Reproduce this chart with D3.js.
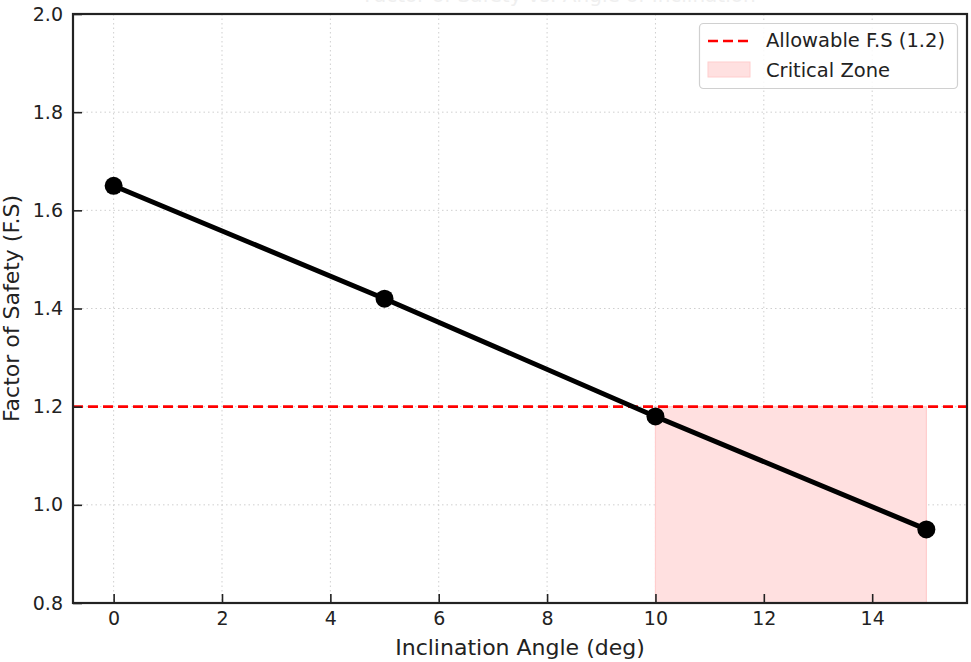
<!DOCTYPE html>
<html><head><meta charset="utf-8">
<script src="https://cdn.jsdelivr.net/npm/d3@7"></script>
<style>body{margin:0;background:#fff}svg{display:block}text{font-family:"DejaVu Sans",sans-serif}</style>
</head><body>
<svg id="c" width="971" height="662"></svg>
<script>
const angles = [0, 5, 10, 15];
const fsValues = [1.65, 1.42, 1.18, 0.95];
const allowableFS = 1.2;
const criticalZone = [10, 15];
const xTicks = [0, 2, 4, 6, 8, 10, 12, 14];
const yTicks = [0.8, 1.0, 1.2, 1.4, 1.6, 1.8, 2.0];
const titleText = "Factor of Safety vs. Angle of Inclination";
const xLabel = "Inclination Angle (deg)";
const yLabel = "Factor of Safety (F.S)";
const legendLabels = ["Allowable F.S (1.2)", "Critical Zone"];

const svg = d3.select("#c");
const L = 73, R = 967, T = 14, B = 603;
const x = d3.scaleLinear().domain([-0.75, 15.75]).range([L, R]);
const y = d3.scaleLinear().domain([0.8, 2.0]).range([B, T]);

// title (mostly clipped at top, as in the reference)
svg.append("text").attr("x", (L + R) / 2 + 40).attr("y", 2).attr("text-anchor", "middle")
  .attr("font-size", 20).attr("fill", "#efefef").text(titleText);

// grid
const g = svg.append("g");
g.selectAll(".gx").data(xTicks).join("line")
  .attr("x1", d => x(d)).attr("x2", d => x(d)).attr("y1", T).attr("y2", B)
  .attr("stroke", "#cfcfcf").attr("stroke-width", 1).attr("stroke-dasharray", "1.5,3");
g.selectAll(".gy").data(yTicks).join("line")
  .attr("y1", d => y(d)).attr("y2", d => y(d)).attr("x1", L).attr("x2", R)
  .attr("stroke", "#cfcfcf").attr("stroke-width", 1).attr("stroke-dasharray", "1.5,3");

// critical zone
svg.append("rect").attr("x", x(criticalZone[0])).attr("y", y(allowableFS))
  .attr("width", x(criticalZone[1]) - x(criticalZone[0])).attr("height", y(0.8) - y(allowableFS))
  .attr("fill", "rgb(255,224,224)").attr("stroke", "rgb(255,205,205)").attr("stroke-width", 1.2);

// allowable line
svg.append("line").attr("x1", L).attr("x2", R).attr("y1", y(allowableFS)).attr("y2", y(allowableFS))
  .attr("stroke", "#ff0000").attr("stroke-width", 2.6).attr("stroke-dasharray", "10,5");

// data line
const pts = angles.map((a, i) => [a, fsValues[i]]);
svg.append("path").datum(pts)
  .attr("d", d3.line().x(d => x(d[0])).y(d => y(d[1])))
  .attr("fill", "none").attr("stroke", "#000").attr("stroke-width", 5);
svg.selectAll(".pt").data(pts).join("circle")
  .attr("cx", d => x(d[0])).attr("cy", d => y(d[1])).attr("r", 9).attr("fill", "#000");

// axes (ticks inward)
const xa = svg.append("g").attr("transform", `translate(0,${B})`)
  .call(d3.axisBottom(x).tickValues(xTicks).tickSizeInner(-9).tickSizeOuter(0).tickPadding(9).tickFormat(d3.format("d")));
const ya = svg.append("g").attr("transform", `translate(${L},0)`)
  .call(d3.axisLeft(y).tickValues(yTicks).tickSizeInner(-9).tickSizeOuter(0).tickPadding(10).tickFormat(d3.format(".1f")));
[xa, ya].forEach(a => {
  a.select(".domain").remove();
  a.selectAll("line").attr("stroke", "#222").attr("stroke-width", 1.6);
  a.selectAll("text").attr("font-size", 19).attr("fill", "#222").style("font-family", "DejaVu Sans");
});

// frame
svg.append("rect").attr("x", L).attr("y", T).attr("width", R - L).attr("height", B - T)
  .attr("fill", "none").attr("stroke", "#222").attr("stroke-width", 2.2);

// axis labels
svg.append("text").attr("x", (L + R) / 2).attr("y", 655).attr("text-anchor", "middle")
  .attr("font-size", 22).attr("fill", "#222").text(xLabel);
svg.append("text").attr("transform", `translate(19,${(T + B) / 2}) rotate(-90)`).attr("text-anchor", "middle")
  .attr("font-size", 22).attr("fill", "#222").text(yLabel);

// legend
const lg = svg.append("g");
lg.append("rect").attr("x", 699.5).attr("y", 23.5).attr("width", 258).attr("height", 65).attr("rx", 4)
  .attr("fill", "rgba(255,255,255,0.85)").attr("stroke", "#d0d0d0").attr("stroke-width", 1.2);
lg.append("line").attr("x1", 708).attr("x2", 750).attr("y1", 41).attr("y2", 41)
  .attr("stroke", "#ff0000").attr("stroke-width", 2.6).attr("stroke-dasharray", "10,5");
lg.append("rect").attr("x", 708).attr("y", 62).attr("width", 42).attr("height", 15)
  .attr("fill", "rgb(255,224,224)").attr("stroke", "rgb(255,205,205)").attr("stroke-width", 1);
lg.selectAll(".lt").data(legendLabels).join("text")
  .attr("x", 766).attr("y", (d, i) => 47 + i * 30).attr("font-size", 19.5).attr("fill", "#222").text(d => d);
</script>
</body></html>
